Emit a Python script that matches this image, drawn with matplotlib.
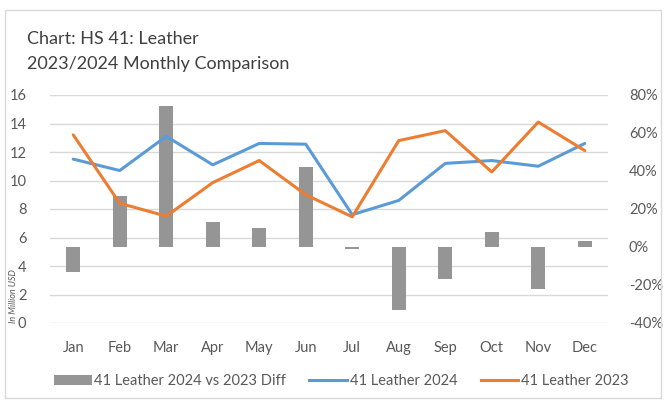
import matplotlib
matplotlib.use("Agg")
import matplotlib.pyplot as plt
import numpy as np
from matplotlib.patches import Rectangle, Patch
from matplotlib.lines import Line2D
from matplotlib.ticker import FuncFormatter

months = ["Jan", "Feb", "Mar", "Apr", "May", "Jun", "Jul", "Aug", "Sep", "Oct", "Nov", "Dec"]
leather_2024 = [11.5, 10.7, 13.1, 11.1, 12.6, 12.55, 7.6, 8.6, 11.2, 11.4, 11.0, 12.6]
leather_2023 = [13.2, 8.4, 7.5, 9.85, 11.4, 9.0, 7.45, 12.8, 13.5, 10.6, 14.1, 12.1]
diff_pct = [-13, 27, 74, 13, 10, 42, -1, -33, -17, 8, -22, 3]
left_ticks = [0, 2, 4, 6, 8, 10, 12, 14, 16]
right_ticks = [-40, -20, 0, 20, 40, 60, 80]

plt.rcParams['font.family'] = ['Lato', 'DejaVu Sans']

W, H = 669, 405
fig = plt.figure(figsize=(W / 100, H / 100), dpi=100)
fig.patch.set_facecolor("white")

# outer frame
fig.patches.append(Rectangle((5 / W, 1 - 398 / H), 656 / W, 388 / H, transform=fig.transFigure,
                             fill=False, edgecolor="#d9d9d9", linewidth=1.0))

x0, x1, ytop, ybot = 50, 608, 95, 323
rect = [x0 / W, 1 - ybot / H, (x1 - x0) / W, (ybot - ytop) / H]
ax = fig.add_axes(rect)
x = np.arange(len(months))

ax.set_xlim(-0.5, len(months) - 0.5)
ax.set_ylim(left_ticks[0], left_ticks[-1])
ax.set_yticks(left_ticks)
ax.grid(axis="y", color="#d9d9d9", linewidth=1.0)
ax.set_axisbelow(True)
for s in ax.spines.values():
    s.set_visible(False)
ax.tick_params(axis="both", length=0, labelsize=10.5, colors="#595959")
ax.tick_params(axis="y", pad=17)
ax.tick_params(axis="x", pad=13)
ax.set_xticks(x)
ax.set_xticklabels(months)

# bars on right axis
ax2 = ax.twinx()
ax2.set_ylim(right_ticks[0], right_ticks[-1])
ax2.set_yticks(right_ticks)
ax2.yaxis.set_major_formatter(FuncFormatter(lambda v, p: f"{int(v)}%"))
bar_color = "#959595"
ax2.bar(x, diff_pct, width=0.3, color=bar_color)
for s in ax2.spines.values():
    s.set_visible(False)
ax2.tick_params(axis="y", length=0, labelsize=10.5, colors="#595959", pad=15)

# lines on top, left scale
ax3 = ax.twinx()
ax3.set_ylim(ax.get_ylim())
ax3.set_yticks([])
for s in ax3.spines.values():
    s.set_visible(False)
blue = "#5B9BD5"
orange = "#ED7D31"
ax3.plot(x, leather_2024, color=blue, linewidth=2.2, solid_capstyle="round")
ax3.plot(x, leather_2023, color=orange, linewidth=2.2, solid_capstyle="round")

# title
fig.text(27 / W, 1 - 44 / H, "Chart: HS 41: Leather", fontsize=13, color="#404040", ha="left", va="baseline")
fig.text(27 / W, 1 - 69 / H, "2023/2024 Monthly Comparison", fontsize=13, color="#404040", ha="left", va="baseline")

# axis note
fig.text(14 / W, 1 - 296 / H, "In Million USD", rotation=90, fontsize=6.5, style="italic",
         color="#595959", ha="center", va="center")

handles = [Patch(facecolor=bar_color, edgecolor="none"),
           Line2D([0], [0], color=blue, linewidth=2.2),
           Line2D([0], [0], color=orange, linewidth=2.2)]
labels = ["41 Leather 2024 vs 2023 Diff", "41 Leather 2024", "41 Leather 2023"]
fig.legend(handles, labels, loc="center", bbox_to_anchor=(0.51, 1 - 381 / H), ncol=3, frameon=False,
           fontsize=10.5, labelcolor="#595959", handlelength=2.6, handleheight=0.7,
           handletextpad=0.15, columnspacing=1.6)

fig.savefig("out.png", dpi=100)
